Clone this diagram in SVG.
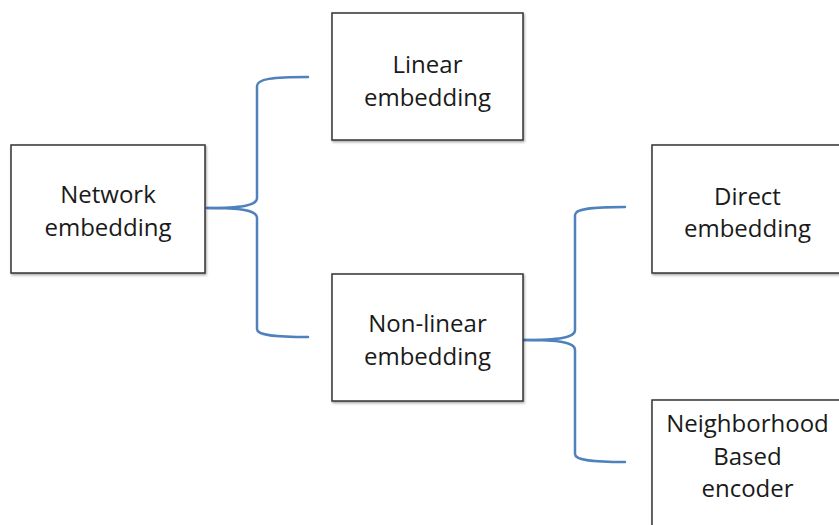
<svg xmlns="http://www.w3.org/2000/svg" width="839" height="525" viewBox="0 0 839 525">
<defs>
<filter id="sh" x="-10%" y="-10%" width="120%" height="120%">
<feDropShadow dx="1" dy="1.5" stdDeviation="1" flood-color="#000" flood-opacity="0.35"/>
</filter>
<style>
.box{fill:#fff;stroke:#333;stroke-width:1.5;filter:url(#sh)}
.t{font-family:"Open Sans","Noto Sans",sans-serif;font-size:24px;fill:#1a1a1a;text-anchor:middle}
.br{fill:none;stroke:#4f81bd;stroke-width:2.5;stroke-linecap:round}
</style>
</defs>
<rect width="839" height="525" fill="#fff"/>
<g id="connectors">
<path class="br" d="M207,208 C240,208 257,206 257,198 L257,86 C257,79 272,77 308,77"/>
<path class="br" d="M207,208 C240,208 257,210 257,218 L257,329 C257,335 272,337 308,337"/>
<path class="br" d="M524,340 C558,340 575,338 575,330 L575,215 C575,209 590,207 625,207"/>
<path class="br" d="M524,340 C558,340 575,342 575,350 L575,454 C575,460 590,462 625,462"/>
</g>
<g id="network">
<rect class="box" x="11" y="145" width="194" height="128"/>
<text class="t" x="108" y="203">Network</text>
<text class="t" x="108" y="236">embedding</text>
</g>
<g id="linear">
<rect class="box" x="332" y="13" width="191" height="127"/>
<text class="t" x="427.5" y="73">Linear</text>
<text class="t" x="427.5" y="106">embedding</text>
</g>
<g id="nonlinear">
<rect class="box" x="332" y="274" width="191" height="127"/>
<text class="t" x="427.5" y="332">Non-linear</text>
<text class="t" x="427.5" y="365">embedding</text>
</g>
<g id="direct">
<rect class="box" x="652" y="145" width="191" height="128"/>
<text class="t" x="747.5" y="205">Direct</text>
<text class="t" x="747.5" y="237">embedding</text>
</g>
<g id="neighborhood">
<rect class="box" x="652" y="400" width="191" height="140"/>
<text class="t" x="747.5" y="432">Neighborhood</text>
<text class="t" x="747.5" y="465">Based</text>
<text class="t" x="747.5" y="497">encoder</text>
</g>
</svg>
